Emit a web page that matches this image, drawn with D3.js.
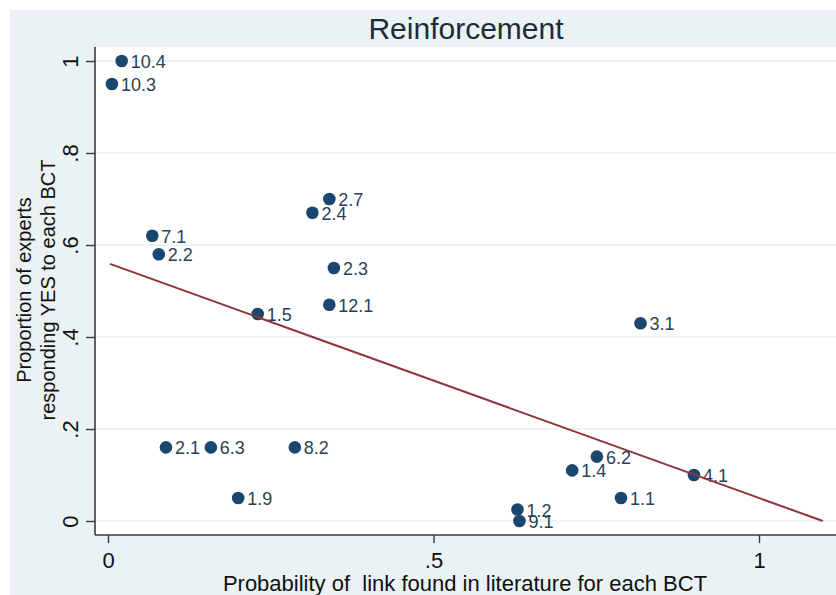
<!DOCTYPE html>
<html>
<head>
<meta charset="utf-8">
<script src="https://cdn.jsdelivr.net/npm/d3@7"></script>
<style>
  html, body { margin: 0; padding: 0; background: #ffffff; }
  svg { display: block; font-family: "Liberation Sans", Arial, sans-serif; }
</style>
</head>
<body>
<svg id="chart" width="836" height="595"></svg>
<script>
// ---- data ----
const labels = ["10.4","10.3","7.1","2.2","2.7","2.4","2.3","12.1","1.5","3.1","2.1","6.3","8.2","1.9","6.2","1.4","1.1","4.1","1.2","9.1"];
const xValues = [0.021,0.006,0.068,0.078,0.340,0.314,0.347,0.340,0.230,0.818,0.089,0.158,0.287,0.200,0.751,0.713,0.788,0.900,0.629,0.632];
const yValues = [1.00,0.95,0.62,0.58,0.70,0.67,0.55,0.47,0.45,0.43,0.16,0.16,0.16,0.05,0.14,0.11,0.05,0.10,0.025,0.00];
const fitX = [0.003, 1.098];
const fitY = [0.559, 0.000];
const xTicks = [0, 0.5, 1];
const xTickLabels = ["0", ".5", "1"];
const yTicks = [0, 0.2, 0.4, 0.6, 0.8, 1];
const yTickLabels = ["0", ".2", ".4", ".6", ".8", "1"];
const title = "Reinforcement";
const xTitle = "Probability of\u00a0 link found in literature for each BCT";
const yTitle = ["Proportion of experts", "responding YES to each BCT"];

// ---- layout ----
const W = 836, H = 595;
const plot = { left: 95, top: 47, right: 836, bottom: 535 };
const x = d3.scaleLinear().domain([0, 1]).range([108, 759]);
const y = d3.scaleLinear().domain([0, 1]).range([521, 61]);

const svg = d3.select("#chart");

// background
svg.append("rect").attr("x", 10).attr("y", 10).attr("width", W - 10).attr("height", H - 10)
  .attr("fill", "#eaf2f3");
svg.append("rect").attr("x", plot.left).attr("y", plot.top)
  .attr("width", plot.right - plot.left).attr("height", plot.bottom - plot.top)
  .attr("fill", "#ffffff");

// gridlines
svg.append("g").selectAll("line").data(yTicks).join("line")
  .attr("x1", plot.left).attr("x2", plot.right)
  .attr("y1", d => y(d)).attr("y2", d => y(d))
  .attr("stroke", "#e9f0f2").attr("stroke-width", 1.6);

// y axis
const yAxis = d3.axisLeft(y).tickValues(yTicks).tickSize(9).tickPadding(8)
  .tickFormat((d, i) => yTickLabels[i]);
const gy = svg.append("g").attr("transform", `translate(${plot.left},0)`).call(yAxis);
gy.select(".domain").remove();
gy.selectAll(".tick line").attr("stroke", "#3a3a3a").attr("stroke-width", 1.4);
gy.selectAll(".tick text")
  .attr("x", null).attr("dy", null)
  .attr("transform", "translate(-25,0) rotate(-90)")
  .attr("text-anchor", "middle")
  .attr("dominant-baseline", "central")
  .attr("font-size", 22).attr("fill", "#111");
svg.append("line").attr("x1", plot.left).attr("x2", plot.left)
  .attr("y1", plot.top).attr("y2", plot.bottom)
  .attr("stroke", "#3a3a3a").attr("stroke-width", 1.6);

// x axis
const xAxis = d3.axisBottom(x).tickValues(xTicks).tickSize(8).tickPadding(6)
  .tickFormat((d, i) => xTickLabels[i]);
const gx = svg.append("g").attr("transform", `translate(0,${plot.bottom})`).call(xAxis);
gx.select(".domain").remove();
gx.selectAll(".tick line").attr("stroke", "#3a3a3a").attr("stroke-width", 1.4);
gx.selectAll(".tick text").attr("dy", null).attr("y", 25)
  .attr("dominant-baseline", "central")
  .attr("font-size", 22).attr("fill", "#111");
svg.append("line").attr("x1", plot.left).attr("x2", plot.right)
  .attr("y1", plot.bottom).attr("y2", plot.bottom)
  .attr("stroke", "#3a3a3a").attr("stroke-width", 1.6);

// points
const pts = labels.map((l, i) => ({ label: l, x: xValues[i], y: yValues[i] }));
svg.append("g").selectAll("circle").data(pts).join("circle")
  .attr("cx", d => x(d.x)).attr("cy", d => y(d.y)).attr("r", 6.3)
  .attr("fill", "#1a476f");
svg.append("g").selectAll("text").data(pts).join("text")
  .attr("x", d => x(d.x) + 9).attr("y", d => y(d.y) + 1)
  .attr("dominant-baseline", "central")
  .attr("font-size", 18).attr("fill", "#2b3f55")
  .text(d => d.label);

// fitted line
const fit = fitX.map((v, i) => [v, fitY[i]]);
svg.append("path").datum(fit)
  .attr("d", d3.line().x(d => x(d[0])).y(d => y(d[1])))
  .attr("fill", "none").attr("stroke", "#90353b").attr("stroke-width", 2);

// titles
svg.append("text").attr("x", 466).attr("y", 28)
  .attr("text-anchor", "middle").attr("dominant-baseline", "central")
  .attr("font-size", 30).attr("fill", "#1e2b3c").text(title);
svg.append("text").attr("x", 465).attr("y", 583)
  .attr("text-anchor", "middle").attr("dominant-baseline", "central")
  .attr("font-size", 22).attr("fill", "#111").text(xTitle);
yTitle.forEach((t, i) => {
  svg.append("text")
    .attr("transform", `translate(${24 + i * 24},290) rotate(-90)`)
    .attr("text-anchor", "middle").attr("dominant-baseline", "central")
    .attr("font-size", 20).attr("fill", "#111").text(t);
});
</script>
</body>
</html>
